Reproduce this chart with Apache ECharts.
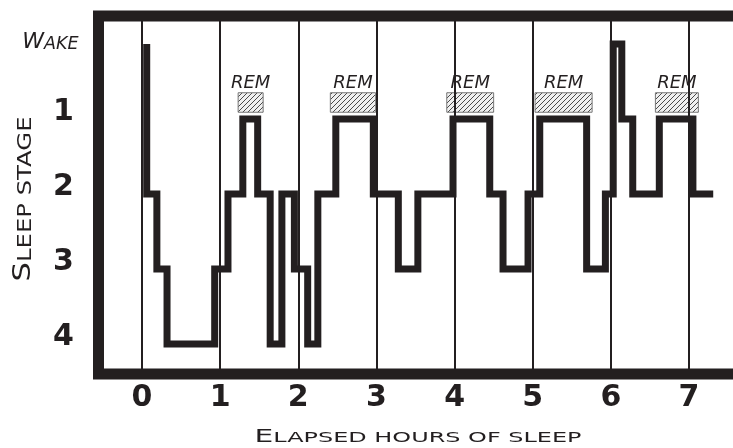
<!DOCTYPE html>
<html>
<head>
<meta charset="utf-8">
<script src="https://cdn.jsdelivr.net/npm/echarts@6/dist/echarts.min.js"></script>
<style>
  html, body { margin: 0; padding: 0; background: #fff; }
  #chart { width: 733px; height: 448px; }
</style>
</head>
<body>
<div id="chart"></div>
<script>
// hypnogram: stage entered at each time (hours), held until the next one
const hours  = [0.06, 0.06, 0.19, 0.32, 0.93, 1.10, 1.29, 1.48, 1.64, 1.79, 1.95, 2.12, 2.25, 2.48, 2.96,
                3.28, 3.53, 3.98, 4.45, 4.62, 4.94, 5.09, 5.69, 5.93, 6.03, 6.14, 6.28, 6.62, 7.05, 7.31];
const stages = [0, 2, 3, 4, 3, 2, 1, 2, 4, 2, 3, 4, 2, 1, 2,
                3, 2, 1, 2, 3, 2, 1, 3, 2, 0, 1, 2, 1, 2, 2];

// REM periods (hours)
const remStart = [1.23, 2.41, 3.90, 5.03, 6.57];
const remEnd   = [1.55, 2.99, 4.50, 5.76, 7.12];

const hourTicks = [0, 1, 2, 3, 4, 5, 6, 7];
const stageTicks = [0, 1, 2, 3, 4];
const stageLabels = ['Wake', '1', '2', '3', '4'];

const ink = '#231f20';

// small hatch pattern for the REM boxes
const hatch = document.createElement('canvas');
hatch.width = 5;
hatch.height = 5;
const hctx = hatch.getContext('2d');
hctx.fillStyle = '#f0f0f0';
hctx.fillRect(0, 0, 5, 5);
hctx.strokeStyle = '#4a4a4a';
hctx.lineWidth = 1;
hctx.beginPath();
hctx.moveTo(0, 5); hctx.lineTo(5, 0);
hctx.moveTo(-1, 1); hctx.lineTo(1, -1);
hctx.moveTo(4, 6); hctx.lineTo(6, 4);
hctx.stroke();

const chart = echarts.init(document.getElementById('chart'));

const lineData = hours.map((h, i) => [h, stages[i]]);

const gridLines = hourTicks.map(h => ({
  xAxis: h,
  lineStyle: { color: ink, width: 2, type: 'solid' }
}));
gridLines.push([
  { coord: [-0.45, 0], lineStyle: { color: '#9d9d9d', width: 3, type: [4, 4] } },
  { coord: [7.9, 0] }
]);

const remAreas = remStart.map((s, i) => [
  { xAxis: s, yAxis: 0.65 },
  { xAxis: remEnd[i], yAxis: 0.91 }
]);

chart.setOption({
  animation: false,
  backgroundColor: '#fff',
  grid: {
    left: 98.5,
    top: 16,
    right: -20,
    bottom: 74,
    outerBoundsMode: 'none',
    containLabel: false,
    show: true,
    borderColor: ink,
    borderWidth: 11,
    backgroundColor: 'transparent'
  },
  xAxis: {
    type: 'value',
    min: -0.557,
    max: 7.819,
    axisLine: { show: false },
    axisTick: { show: false },
    splitLine: { show: false },
    axisLabel: {
      customValues: hourTicks,
      margin: 9,
      color: ink,
      fontFamily: 'DejaVu Sans',
      fontWeight: 'bold',
      fontSize: 30
    }
  },
  yAxis: {
    type: 'value',
    inverse: true,
    min: -0.3733,
    max: 4.4,
    axisLine: { show: false },
    axisTick: { show: false },
    splitLine: { show: false },
    axisLabel: {
      customValues: stageTicks,
      margin: 20,
      align: 'right',
      padding: [0, 0, 14, 0],
      formatter: function (v) {
        const lab = stageLabels[stageTicks.indexOf(v)];
        if (v === 0) {
          return '{w|' + lab[0] + '}{s|' + lab.slice(1).toUpperCase() + '}';
        }
        return '{n|' + lab + '}';
      },
      rich: {
        w: { fontFamily: 'DejaVu Sans', fontStyle: 'italic', fontSize: 22, color: ink, verticalAlign: 'bottom', padding: [10, 0, 0, 0] },
        s: { fontFamily: 'DejaVu Sans', fontStyle: 'italic', fontSize: 17.5, color: ink, verticalAlign: 'bottom', padding: [10, 0, 0, 0] },
        n: { fontFamily: 'DejaVu Sans', fontWeight: 'bold', fontSize: 30, color: ink, width: 26, align: 'center', padding: [0, 2, 0, 0] }
      }
    }
  },
  graphic: [
    {
      type: 'text',
      x: 418,
      y: 437,
      scaleX: 1.65,
      style: {
        text: '{a|E}{b|LAPSED HOURS OF SLEEP}',
        align: 'center',
        verticalAlign: 'middle',
        textAlign: 'center',
        textVerticalAlign: 'middle',
        rich: {
          a: { fontFamily: 'DejaVu Sans', fontSize: 18, fill: ink, color: ink, verticalAlign: 'bottom' },
          b: { fontFamily: 'DejaVu Sans', fontSize: 14.5, fill: ink, color: ink, verticalAlign: 'bottom' }
        }
      }
    },
    {
      type: 'text',
      x: 24,
      y: 199,
      rotation: Math.PI / 2,
      scaleX: 1.28,
      style: {
        text: '{a|S}{b|LEEP STAGE}',
        align: 'center',
        verticalAlign: 'middle',
        textAlign: 'center',
        textVerticalAlign: 'middle',
        rich: {
          a: { fontFamily: 'DejaVu Sans', fontSize: 24, fill: ink, color: ink, verticalAlign: 'bottom' },
          b: { fontFamily: 'DejaVu Sans', fontSize: 19, fill: ink, color: ink, verticalAlign: 'bottom' }
        }
      }
    }
  ],
  series: [
    {
      name: 'Sleep stage',
      type: 'line',
      step: 'end',
      z: 2,
      symbol: 'none',
      lineStyle: { color: ink, width: 7, join: 'miter', cap: 'butt' },
      data: lineData,
      markLine: {
        z: 1.5,
        silent: true,
        symbol: 'none',
        label: { show: false },
        data: gridLines
      },
      markArea: {
        z: 1,
        silent: true,
        itemStyle: {
          color: { image: hatch, repeat: 'repeat' },
          borderColor: '#777',
          borderWidth: 1
        },
        label: {
          show: true,
          position: 'top',
          distance: 0,
          formatter: 'REM',
          fontFamily: 'DejaVu Sans',
          fontStyle: 'italic',
          fontSize: 18,
          color: ink
        },
        data: remAreas
      }
    }
  ]
});
</script>
</body>
</html>
